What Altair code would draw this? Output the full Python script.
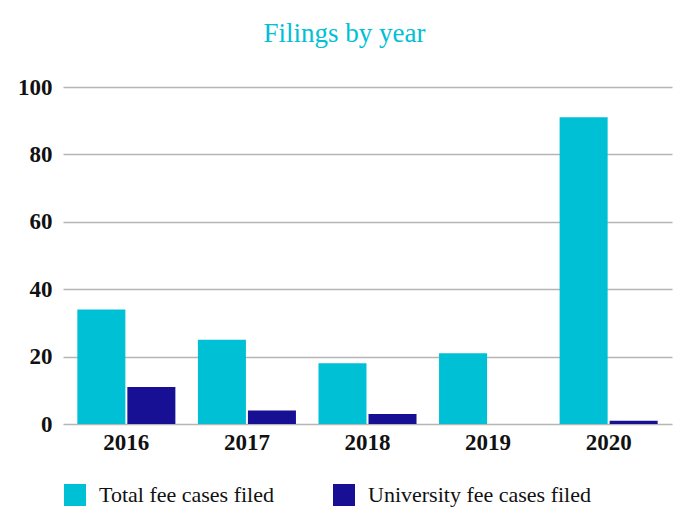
import altair as alt
import pandas as pd

years = ["2016", "2017", "2018", "2019", "2020"]
total = [34, 25, 18, 21, 91]
univ = [11, 4, 3, 0, 1]
series = ["Total fee cases filed", "University fee cases filed"]
colors = ["#00C0D6", "#170F94"]

rows = []
for i, y in enumerate(years):
    rows.append({"year": y, "series": series[0], "value": total[i]})
    rows.append({"year": y, "series": series[1], "value": univ[i]})
df = pd.DataFrame(rows)

SERIF = "Liberation Serif"

chart = alt.Chart(df).mark_bar().encode(
    x=alt.X("year:N", sort=years,
            scale=alt.Scale(paddingInner=0.187, paddingOuter=0.119),
            axis=alt.Axis(title=None, labelAngle=0, labelFont=SERIF, labelFontWeight="bold",
                          labelFontSize=23, labelColor="#111", ticks=False, domain=False,
                          labelPadding=7, grid=False)),
    xOffset=alt.XOffset("series:N", sort=series, scale=alt.Scale(paddingInner=0.04)),
    y=alt.Y("value:Q", scale=alt.Scale(domain=[0, 100]),
            axis=alt.Axis(title=None, values=[0, 20, 40, 60, 80, 100], ticks=False, domain=False,
                          labelPadding=11, gridColor="#b5b5b5", gridWidth=1.5,
                          labelFont=SERIF, labelFontWeight="bold", labelFontSize=23,
                          labelColor="#111")),
    color=alt.Color("series:N",
                    scale=alt.Scale(domain=series, range=colors),
                    legend=alt.Legend(title=None, orient="none", legendX=1, legendY=397,
                                      direction="horizontal", symbolType="square",
                                      symbolSize=484, symbolStrokeWidth=0, symbolOpacity=1,
                                      labelFont=SERIF, labelFontSize=22, labelColor="#111",
                                      labelLimit=0, columnPadding=59, labelOffset=13,
                                      padding=0)),
).properties(
    width=609,
    height=337,
    padding={"left": 55, "top": 79, "right": 4, "bottom": 83},
    autosize=alt.AutoSizeParams(type="none"),
    title=alt.TitleParams("Filings by year", font=SERIF, fontSize=27, fontWeight="normal",
                          color="#00C0D6", dx=-23, offset=28, anchor="middle"),
).configure_view(stroke=None)

chart.save("out.html", embed_options={"renderer": "svg", "actions": False})
